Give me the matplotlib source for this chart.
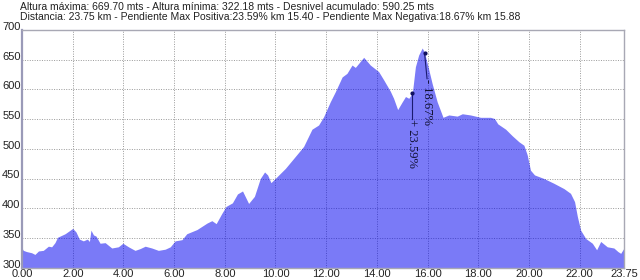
import matplotlib
matplotlib.use("Agg")
import matplotlib.pyplot as plt

# perfil de altura: distancia (km) y altura (m)
km = [0.00, 0.05, 0.18, 0.38, 0.51, 0.65, 0.84, 1.04, 1.17, 1.30, 1.40, 1.50,
      1.70, 1.90, 2.00, 2.13, 2.26, 2.42, 2.58, 2.66, 2.72, 2.82, 2.92, 3.08,
      3.28, 3.54, 3.80, 3.98, 4.20, 4.46, 4.66, 4.86, 5.12, 5.38, 5.65, 5.85,
      6.04, 6.31, 6.50, 6.90, 7.30, 7.49, 7.66, 7.88, 8.05, 8.30, 8.50, 8.70,
      8.94, 9.17, 9.40, 9.57, 9.69, 9.82, 10.06, 10.39, 10.78, 11.11, 11.44,
      11.70, 11.90, 12.16, 12.36, 12.63, 12.82, 13.02, 13.15, 13.48, 13.74,
      14.07, 14.27, 14.53, 14.66, 14.82, 15.00, 15.13, 15.26, 15.40, 15.52,
      15.65, 15.79, 15.88, 16.05, 16.18, 16.38, 16.61, 16.84, 17.17, 17.37,
      17.69, 18.09, 18.48, 18.64, 18.77, 19.08, 19.34, 19.60, 19.80, 19.93,
      20.06, 20.22, 20.59, 20.98, 21.38, 21.64, 21.80, 21.91, 22.04, 22.24,
      22.50, 22.67, 22.83, 23.09, 23.35, 23.51, 23.62, 23.75]
alt = [333, 329, 327, 325, 322.18, 328, 329, 336, 335, 342, 351, 353,
       357, 363, 366, 360, 348, 345, 348, 344, 363, 355, 353, 341,
       342, 333, 335, 341, 335, 329, 332, 336, 333, 329, 331, 335,
       345, 347, 357, 364, 375, 379, 374, 391, 403, 409, 424, 429,
       408, 420, 450, 461, 456, 443, 453, 467, 487, 504, 533,
       540, 554, 579, 596, 621, 627, 641, 637, 654, 641,
       630, 616, 597, 585, 566, 579, 588, 585, 594, 638,
       658, 669.7, 662, 633, 610, 579, 553, 557, 555, 559,
       557, 553, 553, 551, 542, 533, 522, 512, 506, 490,
       464, 456, 450, 442, 433, 425, 411, 386, 363, 349,
       341, 330, 344, 335, 333, 327, 324, 333]

xticks = [0, 2, 4, 6, 8, 10, 12, 14, 16, 18, 20, 22, 23.75]
yticks = [300, 350, 400, 450, 500, 550, 600, 650, 700]

# pendientes maximas
pend_km = [15.40, 15.88]
pend_alt = [594, 662]
pend_txt = ["+ 23.59%", "- 18.67%"]
pend_fin = [550, 618]

linea1 = "Altura máxima: 669.70 mts - Altura mínima: 322.18 mts - Desnivel acumulado: 590.25 mts"
linea2 = ("Distancia: 23.75 km - Pendiente Max Positiva:23.59% km 15.40 - "
          "Pendiente Max Negativa:18.67% km 15.88")

fig = plt.figure(figsize=(6.4, 2.8), dpi=100)
ax = fig.add_axes([22 / 640, 1 - 267.6 / 280, 602 / 640, 237.6 / 280])

ax.fill_between(km, alt, 300, color=(0, 0, 0.94), alpha=0.52, linewidth=0, zorder=2)

ax.set_xlim(0, 23.75)
ax.set_ylim(300, 700)
ax.set_xticks(xticks)
ax.set_xticklabels(["%.2f" % v for v in xticks], fontsize=8, family="Liberation Sans")
ax.set_yticks(yticks)
ax.set_yticklabels([str(v) for v in yticks], fontsize=8, family="Liberation Sans",
                   va="baseline")
ax.tick_params(axis="both", length=0, colors="#222222")
ax.tick_params(axis="x", pad=1)
ax.tick_params(axis="y", pad=1)
ax.grid(True, color="#999999", linestyle=(0, (1, 1.5)), linewidth=0.7, zorder=1)
ax.set_axisbelow(True)
for side in ["top", "right", "bottom"]:
    ax.spines[side].set_color("#a8a8b4")
    ax.spines[side].set_linewidth(1.0)
ax.spines["left"].set_color("#9a9ab8")
ax.spines["left"].set_linewidth(1.6)

# marcas de pendiente
for x, y, t, y2, dx in zip(pend_km, pend_alt, pend_txt, pend_fin, [0, 0.1]):
    ax.plot([x, x + dx], [y, y2], color="#1a1a70", linewidth=0.8, zorder=3)
    ax.plot(x, y, "o", color="#101060", markersize=2, zorder=4)
    ax.text(x + dx, y2, t, rotation=270, ha="center", va="top", fontsize=9,
            family="Liberation Serif", color="#111133", zorder=5)

fig.text(20 / 640, 1 - 7.5 / 280, linea1, ha="left", va="center", fontsize=7.5,
         family="Liberation Sans", color="#222222")
fig.text(20 / 640, 1 - 16.5 / 280, linea2, ha="left", va="center", fontsize=7.5,
         family="Liberation Sans", color="#222222")

fig.savefig("out.png", dpi=100)
